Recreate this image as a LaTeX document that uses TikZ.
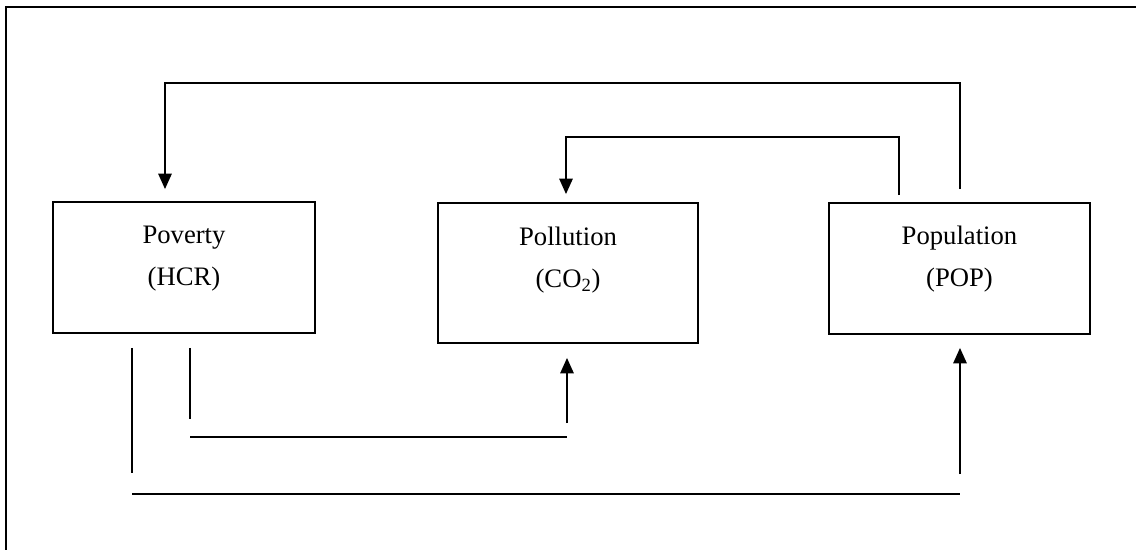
\documentclass[tikz,border=0pt]{standalone}
\usepackage{fontspec}
\setmainfont{Liberation Serif}
\usetikzlibrary{arrows.meta}

\begin{document}
\begin{tikzpicture}[x = 0.75pt, y = -0.75pt,
  box/.style = {draw, line width = 1.4pt, inner sep = 0pt, align = center,
    font = \fontsize{20}{31.5}\selectfont, text height = 40pt, text depth = 13.75pt},
  flow/.style = {line width = 1.2pt},
  arr/.style = {flow, -{Triangle[length = 11.5pt, width = 10pt]}}]
\useasboundingbox (0,0) rectangle (1136,550);
\draw[line width = 1.5pt] (6,550) -- (6,7) -- (1136,7);
\node[box, minimum width = 196.5pt, minimum height = 98.25pt] (pov) at (184,267.5) {Poverty\\(HCR)};
\node[box, minimum width = 195pt, minimum height = 105pt, text height = 35pt, text depth = 14pt] (pol) at (568,273) {Pollution\\(CO\textsubscript{2})};
\node[box, minimum width = 195.75pt, minimum height = 98.25pt] (popn) at (959.5,268.5) {Population\\(POP)};
\coordinate (topL) at (165,83);
\coordinate (topR) at (960,83);
\coordinate (midL) at (566,137);
\coordinate (midR) at (899,137);
\coordinate (lowL) at (190,437);
\coordinate (lowR) at (567,437);
\coordinate (baseL) at (132,494);
\coordinate (baseR) at (960,494);
\draw[arr, shorten <= 9.75pt, shorten >= 9pt] (popn.north -| topR) -- (topR) -- (topL) -- (pov.north -| topL);
\draw[arr, shorten <= 5.25pt, shorten >= 6pt] (popn.north -| midR) -- (midR) -- (midL) -- (pol.north -| midL);
\draw[flow, shorten <= 10.5pt, shorten >= 13.5pt] (pov.south -| lowL) -- (lowL);
\draw[flow] (lowL) -- (lowR);
\draw[arr, shorten <= 10.5pt, shorten >= 10.5pt] (lowR) -- (pol.south -| lowR);
\draw[flow, shorten <= 10.5pt, shorten >= 15.75pt] (pov.south -| baseL) -- (baseL);
\draw[flow] (baseL) -- (baseR);
\draw[arr, shorten <= 15pt, shorten >= 9.75pt] (baseR) -- (popn.south -| baseR);
\end{tikzpicture}
\end{document}
